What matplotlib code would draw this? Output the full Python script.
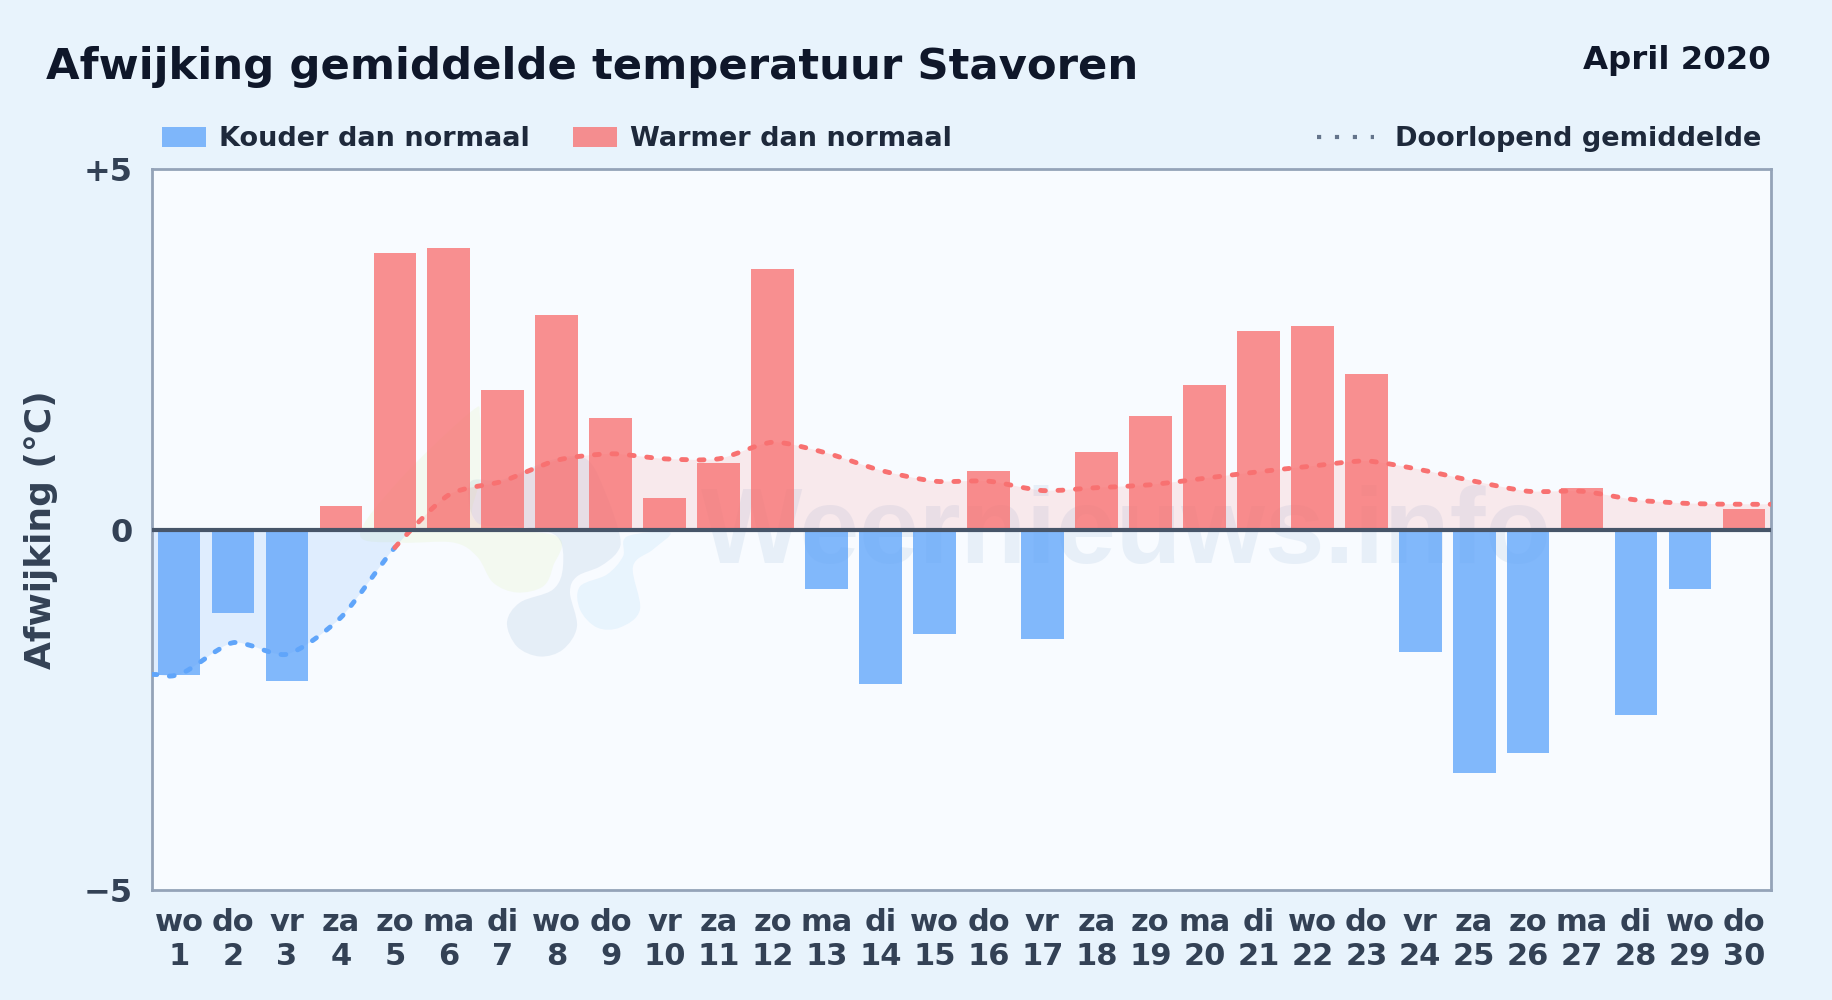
import matplotlib
matplotlib.use("Agg")
import matplotlib.pyplot as plt
from matplotlib.patches import PathPatch, Rectangle
from matplotlib.path import Path
from matplotlib.lines import Line2D

days = list(range(1, 31))
weekdays = ["wo", "do", "vr", "za", "zo", "ma", "di", "wo", "do", "vr",
            "za", "zo", "ma", "di", "wo", "do", "vr", "za", "zo", "ma",
            "di", "wo", "do", "vr", "za", "zo", "ma", "di", "wo", "do"]
deviation = [-2.02, -1.16, -2.10, 0.33, 3.83, 3.91, 1.94, 2.97, 1.55, 0.43,
             0.92, 3.61, -0.83, -2.14, -1.45, 0.81, -1.52, 1.07, 1.58, 2.01,
             2.76, 2.82, 2.16, -1.70, -3.38, -3.10, 0.57, -2.57, -0.83, 0.29]
running_mean = [-2.01, -1.57, -1.73, -1.22, -0.25, 0.48, 0.67, 0.96, 1.05, 0.98,
                0.98, 1.21, 1.06, 0.82, 0.67, 0.67, 0.54, 0.58, 0.62, 0.71,
                0.80, 0.88, 0.95, 0.83, 0.67, 0.53, 0.53, 0.41, 0.36, 0.35]

BLUE = "#60a5fa"
RED = "#f87171"
BG = "#e8f3fc"
DARK = "#334155"
TENSION = 0.125

# logo outlines of the watermark, in pixels of the picture
logo_dark = [(470, 483), (503, 480), (553, 460), (587, 460), (607, 497), (620, 537), (617, 553), (600, 567),
             (577, 577), (570, 593), (577, 627), (563, 650), (540, 657), (517, 647), (507, 623), (520, 603),
             (553, 590), (563, 567), (557, 537), (520, 527), (477, 523)]
logo_yellow = [(360, 535), (400, 480), (470, 413), (480, 417), (480, 477), (477, 523), (557, 537), (553, 567),
               (543, 587), (517, 593), (493, 583), (477, 557), (453, 543), (400, 543)]
logo_light = [(627, 537), (670, 533), (653, 550), (633, 567), (640, 610), (620, 628), (597, 628), (580, 610),
              (580, 587), (607, 575), (623, 557)]

plt.rcParams["font.family"] = "DejaVu Sans"
plt.rcParams["font.weight"] = "bold"

fig = plt.figure(figsize=(18.32, 10), dpi=100, facecolor=BG)
ax = fig.add_axes([152 / 1832, 1 - 890 / 1000, 1619 / 1832, 721 / 1000], facecolor="#f8fbff")
ax.set_xlim(0.5, 30.5)
ax.set_ylim(-5, 5)


def closed_blob(points):
    # smooth closed outline through the points, in axes data units
    pts = [(0.5 + (x - 152) / 53.97, (530 - y) / 72.1) for x, y in points]
    n = len(pts)
    verts = [pts[0]]
    codes = [Path.MOVETO]
    for i in range(n):
        p0, p1, p2, p3 = pts[i - 1], pts[i], pts[(i + 1) % n], pts[(i + 2) % n]
        verts += [(p1[0] + (p2[0] - p0[0]) / 6, p1[1] + (p2[1] - p0[1]) / 6),
                  (p2[0] - (p3[0] - p1[0]) / 6, p2[1] - (p3[1] - p1[1]) / 6), p2]
        codes += [Path.CURVE4] * 3
    return Path(verts, codes)


# watermark
ax.text(10.68, -0.47, "Weernieuws.info", fontsize=77.3, color="#9dbbd9", alpha=0.18,
        family="Liberation Sans", ha="left", va="baseline", zorder=1)
for outline, c, a in [(logo_dark, "#9dbbd9", 0.2), (logo_yellow, "#d8f0a0", 0.15), (logo_light, "#a8d8f8", 0.2)]:
    ax.add_patch(PathPatch(closed_blob(outline), facecolor=c, edgecolor="none", alpha=a, zorder=1))

# bars
colors = [BLUE if v < 0 else RED for v in deviation]
ax.bar(days, deviation, width=0.79, color=colors, alpha=0.78, zorder=3)

# smooth running mean through the daily points, ends run out to the axes edges
xs = [0.5] + days + [30.5]
ys = [running_mean[0]] + running_mean + [running_mean[-1]]
verts = [(xs[0], ys[0])]
codes = [Path.MOVETO]
segments = []
for i in range(len(xs) - 1):
    prev_y = ys[max(i - 1, 0)]
    next_y = ys[min(i + 2, len(ys) - 1)]
    seg = [(xs[i] + 0.25, ys[i] + TENSION * (ys[i + 1] - prev_y)),
           (xs[i + 1] - 0.25, ys[i + 1] - TENSION * (next_y - ys[i])),
           (xs[i + 1], ys[i + 1])]
    verts += seg
    codes += [Path.CURVE4] * 3
    segments.append(seg)
fill_path = Path(verts + [(30.5, 0), (0.5, 0), (0.5, ys[0])],
                 codes + [Path.LINETO, Path.LINETO, Path.CLOSEPOLY])

for color, y0, height, fill_alpha in [(RED, 0, 5, 0.13), (BLUE, -5, 5, 0.16)]:
    clip = Rectangle((0.5, y0), 30, height, transform=ax.transData)
    fill = PathPatch(fill_path, facecolor=color, edgecolor="none", alpha=fill_alpha, zorder=2)
    ax.add_patch(fill)
    fill.set_clip_path(clip)

# line turns red from the last point below zero, the segment itself is not cut at zero
split = next(i for i, v in enumerate(ys) if v >= 0) - 1
for color, segs, start in [(BLUE, segments[:split], (xs[0], ys[0])), (RED, segments[split:], (xs[split], ys[split]))]:
    part = [start] + [p for seg in segs for p in seg]
    part_codes = [Path.MOVETO] + [Path.CURVE4] * (3 * len(segs))
    ax.add_patch(PathPatch(Path(part, part_codes), facecolor="none", edgecolor=color, lw=3.5,
                           linestyle=(0, (1.0, 2.6)), capstyle="round", zorder=4))

ax.axhline(0, color="#475569", lw=3, zorder=5)

for side in ax.spines.values():
    side.set_color("#94a3b8")
    side.set_linewidth(2)

ax.set_yticks([-5, 0, 5])
ax.set_yticklabels(["\u22125", "0", "+5"], fontsize=23, color=DARK)
ax.set_xticks(days)
ax.set_xticklabels([f"{d}\n{n}" for d, n in zip(weekdays, days)], fontsize=22, color=DARK,
                   linespacing=1.2)
ax.tick_params(length=0, axis="both")
ax.tick_params(axis="x", pad=13)
ax.tick_params(axis="y", pad=14)
fig.text(41 / 1832, 1 - 530 / 1000, "Afwijking (\u00b0C)", rotation=90, fontsize=25.9, color=DARK,
         ha="center", va="center")

# title and date
fig.text(46 / 1832, 1 - 67 / 1000, "Afwijking gemiddelde temperatuur Stavoren", fontsize=31.2,
         color="#0f172a", ha="left", va="center")
fig.text(1771 / 1832, 1 - 60 / 1000, "April 2020", fontsize=23.3, color="#0f172a", ha="right", va="center")

# legend
leg_y = 1 - 137 / 1000
text_y = 1 - 138.5 / 1000
for x0, c, label, tx in [(162, BLUE, "Kouder dan normaal", 219), (573, RED, "Warmer dan normaal", 630)]:
    fig.patches.append(Rectangle((x0 / 1832, leg_y - 9.5 / 1000), 44 / 1832, 19 / 1000, facecolor=c, alpha=0.78,
                                 edgecolor="none", lw=0, transform=fig.transFigure))
    fig.text(tx / 1832, text_y, label, fontsize=19.5, color="#1e293b", ha="left", va="center")
fig.add_artist(Line2D([1317 / 1832, 1374 / 1832], [leg_y, leg_y], color="#64748b", lw=3,
                      linestyle=(0, (1, 3.3))))
fig.text(1395 / 1832, text_y, "Doorlopend gemiddelde", fontsize=19.5, color="#1e293b", ha="left", va="center")

fig.savefig("out.png", dpi=100, facecolor=BG)
